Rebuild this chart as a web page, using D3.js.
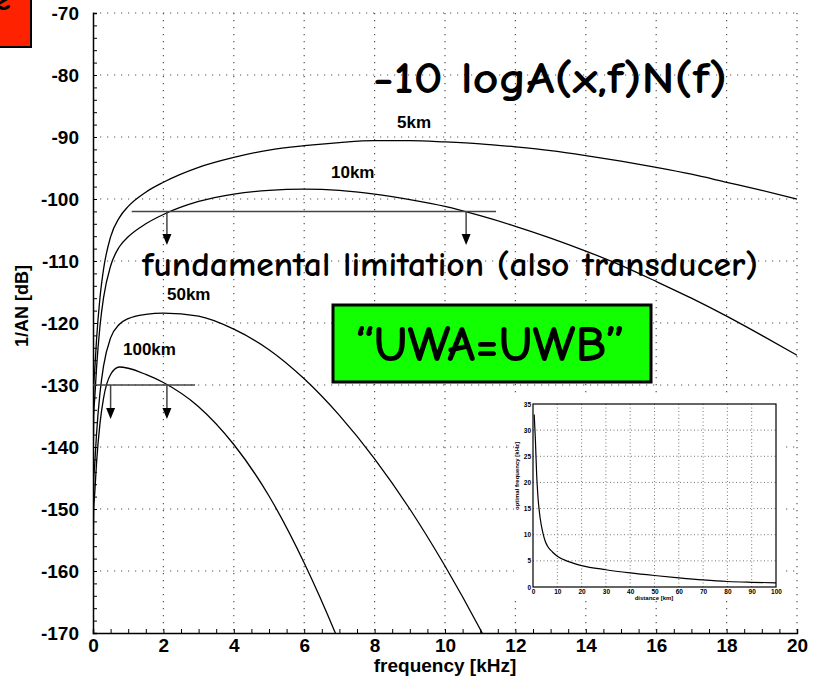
<!DOCTYPE html>
<html>
<head>
<meta charset="utf-8">
<script src="https://cdn.jsdelivr.net/npm/d3@7"></script>
<style>
  body { margin: 0; background: #fff; }
  .tick text { font-family: "Liberation Sans Narrow", "Arial Narrow", "Liberation Sans", Arial, sans-serif; font-weight: bold; }
</style>
</head>
<body>
<div id="chart"></div>
<script>
// frequency samples [kHz] and 1/AN [dB] for each distance
const freq = [0.008, 0.02, 0.05, 0.1, 0.2, 0.3, 0.5, 0.75, 1, 1.5, 2, 3, 4, 5, 6, 7, 8, 9, 10, 11, 12, 13, 14, 15, 16, 17, 18, 19, 20];
const loss5km = [-135.9, -130.4, -127.6, -122.7, -115.8, -111.3, -106.1, -103.0, -101.2, -98.9, -97.3, -94.9, -93.3, -92.1, -91.4, -90.9, -90.6, -90.6, -90.8, -91.1, -91.6, -92.2, -93.0, -93.9, -94.9, -96.0, -97.3, -98.6, -100.0];
const loss10km = [-140.4, -134.9, -132.1, -127.3, -120.4, -115.9, -110.8, -107.7, -106.1, -104.0, -102.5, -100.4, -99.2, -98.6, -98.4, -98.6, -99.2, -100.1, -101.2, -102.7, -104.4, -106.3, -108.4, -110.7, -113.3, -116.0, -118.9, -122.0, -125.2];
const loss50km = [-151.0, -145.5, -142.7, -137.9, -131.2, -126.9, -122.4, -120.2, -119.3, -118.6, -118.4, -118.9, -121.0, -124.3, -129.0, -134.9, -141.9, -150.0, -159.2, -169.4, -180.6];
const loss100km = [-155.7, -150.2, -147.4, -142.6, -136.1, -132.1, -128.3, -127.1, -127.3, -128.3, -129.6, -133.5, -139.6, -147.9, -158.7, -171.6, -186.6];

const curveNames = ["5km", "10km", "50km", "100km"];
const curveValues = [loss5km, loss10km, loss50km, loss100km];

// limit lines: level [dB], start/end freq, arrow freqs, arrow tip level
const limitLevel = [-102, -130];
const limitFrom = [1.1, 0];
const limitTo = [11.45, 2.9];
const arrowFreqs = [[2.1, 10.6], [0.5, 2.1]];
const arrowTip = [-107.4, -135.5];

// inset: optimal frequency vs distance
const distKm = [0.5, 1, 1.5, 2, 3, 4, 5, 6, 8, 10, 15, 20, 30, 40, 50, 60, 70, 80, 90, 100];
const optFreq = [33, 28, 21.5, 17.5, 13, 10.5, 8.8, 7.8, 6.7, 5.9, 4.8, 4.1, 3.3, 2.7, 2.2, 1.75, 1.35, 1.05, 0.9, 0.8];

const xTicks = d3.range(0, 21, 2);
const yTicks = d3.range(-170, -69, 10);

const W = 820, H = 683;
const plotL = 93, plotR = 797, plotT = 13, plotB = 633;

const svg = d3.select("#chart").append("svg")
  .attr("width", W).attr("height", H)
  .style("background", "#fff");

const x = d3.scaleLinear().domain([0, 20]).range([plotL, plotR]);
const y = d3.scaleLinear().domain([-170, -70]).range([plotB, plotT]);

// dotted grid
const grid = svg.append("g")
  .attr("stroke", "#555")
  .attr("stroke-width", 1.2)
  .attr("stroke-dasharray", "1.2,5.8");
grid.selectAll(".vg").data(xTicks.filter(d => d > 0)).join("line")
  .attr("x1", d => x(d)).attr("x2", d => x(d))
  .attr("y1", plotT).attr("y2", plotB);
grid.selectAll(".hg").data(yTicks.filter(d => d > -170)).join("line")
  .attr("x1", plotL).attr("x2", plotR)
  .attr("y1", d => y(d)).attr("y2", d => y(d));

// axes (plain hyphen minus like the original)
svg.append("g")
  .attr("transform", `translate(${plotL},0)`)
  .call(d3.axisLeft(y).tickValues(yTicks).tickSize(0).tickPadding(14).tickFormat(d => String(d)))
  .call(g => g.select(".domain").remove())
  .selectAll("text").style("font-size", "19px");

svg.append("g")
  .attr("transform", `translate(${plotL},0)`)
  .call(d3.axisRight(y).tickValues(d3.range(-170, -69, 2)).tickSize(4).tickFormat(""))
  .call(g => g.select(".domain").attr("stroke-width", 1.5));

svg.append("g")
  .attr("transform", `translate(0,${plotB})`)
  .call(d3.axisBottom(x).tickValues(xTicks).tickSize(0).tickPadding(6).tickFormat(d => String(d)))
  .call(g => g.select(".domain").remove())
  .selectAll("text").style("font-size", "19px");

svg.append("g")
  .attr("transform", `translate(0,${plotB})`)
  .call(d3.axisTop(x).tickValues(d3.range(0, 20.01, 0.5)).tickSize(4).tickFormat(""))
  .call(g => g.select(".domain").attr("stroke-width", 1.5));

// axis titles
svg.append("text")
  .attr("x", 445).attr("y", 672)
  .attr("text-anchor", "middle")
  .style("font-family", "'Liberation Sans Narrow', 'Liberation Sans', Arial, sans-serif")
  .style("font-weight", "bold").style("font-size", "19px")
  .text("frequency [kHz]");

svg.append("text")
  .attr("transform", "translate(28,306) rotate(-90)")
  .attr("text-anchor", "middle")
  .style("font-family", "'Liberation Sans Narrow', 'Liberation Sans', Arial, sans-serif")
  .style("font-weight", "bold").style("font-size", "18px")
  .text("1/AN [dB]");

// curves
svg.append("clipPath").attr("id", "plotclip")
  .append("rect").attr("x", plotL).attr("y", plotT)
  .attr("width", plotR - plotL).attr("height", plotB - plotT);

const line = d3.line()
  .x(d => x(d[0])).y(d => y(d[1]))
  .curve(d3.curveMonotoneX);

svg.append("g").attr("clip-path", "url(#plotclip)")
  .selectAll("path")
  .data(curveValues.map(vals => vals.map((v, i) => [freq[i], v])))
  .join("path")
  .attr("d", line)
  .attr("fill", "none")
  .attr("stroke", "#000")
  .attr("stroke-width", 1.3);

// curve labels
const labelPos = [[397, 128], [331, 178], [167, 300], [123, 355]];
svg.selectAll(".clabel").data(curveNames).join("text")
  .attr("x", (d, i) => labelPos[i][0]).attr("y", (d, i) => labelPos[i][1])
  .style("font-family", "'Liberation Sans', Arial, sans-serif")
  .style("font-weight", "bold").style("font-size", "17px")
  .text(d => d);

// limit lines with arrows
limitLevel.forEach((lv, k) => {
  svg.append("line")
    .attr("x1", x(limitFrom[k])).attr("x2", x(limitTo[k]))
    .attr("y1", y(lv)).attr("y2", y(lv))
    .attr("stroke", "#444").attr("stroke-width", 1.5);
  arrowFreqs[k].forEach(f => {
    svg.append("line")
      .attr("x1", x(f)).attr("x2", x(f))
      .attr("y1", y(lv)).attr("y2", y(arrowTip[k]) - 8)
      .attr("stroke", "#444").attr("stroke-width", 1.5);
    const tx = x(f), ty = y(arrowTip[k]);
    svg.append("path")
      .attr("d", `M${tx},${ty} L${tx - 4.5},${ty - 11} L${tx + 4.5},${ty - 11} Z`)
      .attr("fill", "#000");
  });
});

// annotation texts
const handFont = "'Comic Sans MS', 'Comic Neue', 'Open Sans', 'DejaVu Sans', sans-serif";
svg.append("text")
  .attr("x", 373).attr("y", 93)
  .attr("textLength", 354).attr("lengthAdjust", "spacingAndGlyphs")
  .style("font-family", handFont).style("font-size", "44px").style("font-weight", 600)
  .text("-10 logA(x,f)N(f)");

svg.append("text")
  .attr("x", 142).attr("y", 276)
  .attr("textLength", 616).attr("lengthAdjust", "spacingAndGlyphs")
  .style("font-family", handFont).style("font-size", "34px").style("font-weight", 600)
  .text("fundamental limitation (also transducer)");

svg.append("rect")
  .attr("x", 333).attr("y", 305).attr("width", 318).attr("height", 77)
  .attr("fill", "#11ff00").attr("stroke", "#000").attr("stroke-width", 3);
svg.append("text")
  .attr("x", 355).attr("y", 361)
  .attr("textLength", 270).attr("lengthAdjust", "spacingAndGlyphs")
  .style("font-family", handFont).style("font-size", "50px").style("font-weight", 600)
  .text("\u201CUWA=UWB\u201D");

// red corner badge
svg.append("rect")
  .attr("x", -3).attr("y", -3).attr("width", 34).attr("height", 50)
  .attr("fill", "#ff2200").attr("stroke", "#000").attr("stroke-width", 2);
svg.append("text")
  .attr("x", -6).attr("y", 10)
  .style("font-family", handFont).style("font-weight", "bold").style("font-size", "34px")
  .text("e");

// inset chart
const inset = svg.append("g");
inset.append("rect")
  .attr("x", 514).attr("y", 396).attr("width", 272).attr("height", 204)
  .attr("fill", "#fff");

const ix = d3.scaleLinear().domain([0, 100]).range([533, 776]);
const iy = d3.scaleLinear().domain([0, 35]).range([587, 404]);

const igrid = inset.append("g")
  .attr("stroke", "#555").attr("stroke-width", 0.8)
  .attr("stroke-dasharray", "1,2.5");
igrid.selectAll(".ivg").data(d3.range(10, 100, 10)).join("line")
  .attr("x1", d => ix(d)).attr("x2", d => ix(d))
  .attr("y1", iy(35)).attr("y2", iy(0));
igrid.selectAll(".ihg").data(d3.range(5, 35, 5)).join("line")
  .attr("x1", ix(0)).attr("x2", ix(100))
  .attr("y1", d => iy(d)).attr("y2", d => iy(d));

inset.append("rect")
  .attr("x", ix(0)).attr("y", iy(35))
  .attr("width", ix(100) - ix(0)).attr("height", iy(0) - iy(35))
  .attr("fill", "none").attr("stroke", "#000").attr("stroke-width", 1.2);

inset.append("g")
  .attr("transform", `translate(0,${iy(0)})`)
  .call(d3.axisBottom(ix).tickValues(d3.range(0, 101, 10)).tickSize(0).tickPadding(2))
  .call(g => g.select(".domain").remove())
  .selectAll("text").style("font-size", "6.5px");

inset.append("g")
  .attr("transform", `translate(${ix(0)},0)`)
  .call(d3.axisLeft(iy).tickValues(d3.range(0, 36, 5)).tickSize(0).tickPadding(2))
  .call(g => g.select(".domain").remove())
  .selectAll("text").style("font-size", "6.5px");

inset.append("text")
  .attr("x", 654).attr("y", 600)
  .attr("text-anchor", "middle")
  .style("font-family", "'Liberation Sans', Arial, sans-serif")
  .style("font-weight", "bold").style("font-size", "6px")
  .text("distance [km]");
inset.append("text")
  .attr("transform", "translate(519,476) rotate(-90)")
  .attr("text-anchor", "middle")
  .style("font-family", "'Liberation Sans', Arial, sans-serif")
  .style("font-weight", "bold").style("font-size", "6px")
  .text("optimal frequency [kHz]");

const iline = d3.line()
  .x((d, i) => ix(distKm[i])).y(d => iy(d))
  .curve(d3.curveMonotoneX);
inset.append("path")
  .datum(optFreq)
  .attr("d", iline)
  .attr("fill", "none").attr("stroke", "#000").attr("stroke-width", 1.2);
</script>
</body>
</html>
